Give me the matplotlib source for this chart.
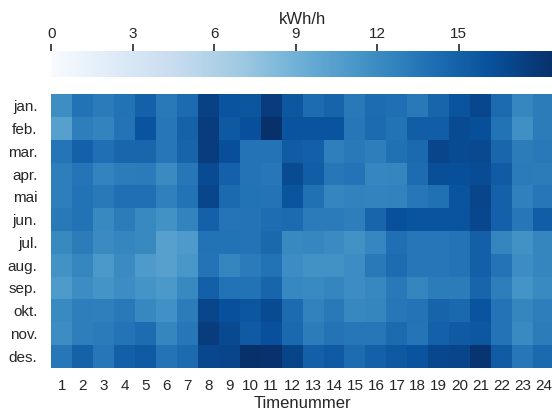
import numpy as np
import matplotlib
matplotlib.use("Agg")
import matplotlib.pyplot as plt

plt.rcParams['font.family'] = ['Liberation Sans', 'DejaVu Sans']

months = ["jan.", "feb.", "mar.", "apr.", "mai", "jun.",
          "jul.", "aug.", "sep.", "okt.", "nov.", "des."]
hours = list(range(1, 25))

# Mean hourly consumption (kWh/h) per month and hour of day
jan = [11.8, 13.8, 13.2, 13.8, 15.0, 13.3, 14.3, 17.3, 16.0, 15.8, 17.6, 15.7,
       14.2, 14.8, 13.3, 14.2, 14.0, 13.3, 14.7, 16.0, 16.9, 14.3, 12.4, 13.1]
feb = [10.4, 13.0, 12.6, 13.7, 16.0, 13.4, 14.9, 17.6, 15.6, 16.2, 18.5, 16.0,
       16.0, 16.0, 13.4, 14.3, 13.8, 15.2, 15.2, 16.6, 16.3, 13.8, 11.7, 13.1]
mar = [13.6, 15.0, 14.0, 14.6, 14.6, 13.5, 14.8, 17.6, 16.4, 13.7, 13.7, 15.4,
       15.1, 12.9, 13.3, 13.0, 13.9, 14.4, 17.0, 16.6, 16.7, 14.6, 13.1, 13.3]
apr = [13.0, 13.6, 12.6, 13.1, 13.2, 12.0, 13.4, 16.6, 15.0, 13.7, 13.5, 16.6,
       15.2, 13.4, 13.7, 12.4, 12.5, 14.2, 16.4, 16.3, 16.5, 15.4, 13.2, 13.1]
mai = [13.0, 13.8, 13.3, 14.0, 14.0, 12.8, 13.8, 17.0, 14.4, 13.8, 13.7, 15.9,
       13.9, 12.5, 12.7, 12.6, 12.7, 13.5, 13.9, 15.9, 17.0, 15.0, 12.8, 13.5]
jun = [13.3, 13.8, 12.2, 13.1, 12.2, 11.5, 12.6, 15.0, 13.6, 13.7, 14.1, 14.3,
       13.2, 13.2, 13.0, 14.7, 16.2, 16.0, 16.0, 16.0, 16.9, 15.0, 13.4, 15.2]
jul = [12.2, 13.1, 12.0, 12.5, 12.2, 10.4, 10.9, 13.8, 13.8, 13.7, 14.5, 12.2,
       12.4, 12.0, 11.5, 12.4, 14.0, 13.4, 13.4, 13.7, 15.1, 12.5, 11.5, 12.5]
aug = [11.5, 12.4, 11.0, 12.0, 10.9, 10.4, 11.2, 13.7, 12.5, 13.2, 13.8, 11.9,
       11.5, 11.5, 11.9, 13.3, 14.2, 13.5, 13.5, 13.7, 15.1, 13.7, 11.9, 12.5]
sep = [10.9, 11.9, 11.4, 11.9, 11.4, 11.0, 12.2, 15.1, 13.8, 13.8, 14.7, 12.3,
       12.1, 12.5, 11.9, 12.3, 13.3, 12.5, 13.1, 13.1, 14.7, 13.0, 11.4, 12.1]
okt = [12.1, 13.0, 12.9, 13.3, 12.3, 11.6, 13.1, 17.0, 16.2, 15.8, 16.6, 14.3,
       12.7, 13.3, 12.3, 12.5, 13.5, 13.7, 14.8, 14.5, 16.0, 13.7, 12.5, 13.0]
nov = [11.9, 13.0, 13.2, 13.7, 14.2, 12.5, 13.5, 17.6, 16.7, 15.5, 16.2, 14.5,
       13.1, 13.7, 13.4, 13.4, 14.3, 13.6, 15.0, 15.5, 15.7, 13.7, 12.1, 13.1]
des = [13.4, 14.9, 13.5, 15.1, 15.5, 13.7, 14.3, 16.9, 17.0, 18.5, 18.4, 17.1,
       15.1, 15.5, 14.2, 15.0, 15.6, 16.0, 16.9, 17.0, 18.2, 15.4, 13.4, 14.4]

cbar_ticks = [0, 3, 6, 9, 12, 15]
vmin, vmax = 0, 18.5

values = np.array([jan, feb, mar, apr, mai, jun, jul, aug, sep, okt, nov, des])

W, H = 552, 411
fig = plt.figure(figsize=(W / 100, H / 100), dpi=100)

left, right = 51.3 / W, 553.9 / W
ax = fig.add_axes([left, 1 - 367.7 / H, right - left, (367.7 - 94.3) / H])
cax = fig.add_axes([left, 1 - 77 / H, right - left, (77 - 51) / H])

mesh = ax.pcolormesh(values, cmap="Blues", vmin=vmin, vmax=vmax)
ax.set_xlim(0, len(hours))
ax.set_ylim(len(months), 0)
ax.set_xticks(np.arange(len(hours)) + 0.5)
ax.set_xticklabels([str(h) for h in hours])
ax.set_yticks(np.arange(len(months)) + 0.5)
ax.set_yticklabels(months)
ax.tick_params(axis="both", length=0, labelsize=11, colors="#262626")
ax.tick_params(axis="y", pad=10)
ax.tick_params(axis="x", pad=8)
for s in ax.spines.values():
    s.set_visible(False)
ax.set_xlabel("Timenummer", fontsize=12, color="#262626", labelpad=2)

cb = fig.colorbar(mesh, cax=cax, orientation="horizontal")
cb.outline.set_visible(False)
cb.set_ticks(cbar_ticks)
cax.xaxis.set_ticks_position("top")
cax.xaxis.set_label_position("top")
cax.tick_params(axis="x", length=5, width=1.2, colors="#262626", labelsize=11, pad=2.5)
cb.set_label("kWh/h", fontsize=12, color="#262626", labelpad=1.5)

fig.savefig("out.png", dpi=100)
